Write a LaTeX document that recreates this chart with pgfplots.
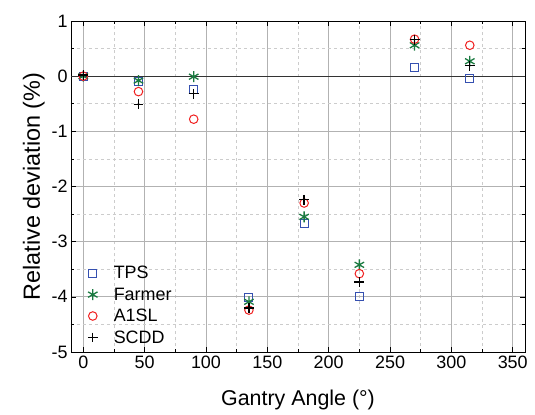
\documentclass[border=0pt]{standalone}
\usepackage{fontspec}
\setmainfont{Liberation Sans}
\usepackage{pgfplots}
\pgfplotsset{compat=1.18}

\definecolor{tpsblue}{HTML}{3550B0}
\definecolor{farmgreen}{HTML}{1A7A40}
\definecolor{slred}{HTML}{F02020}

\begin{document}
\begin{tikzpicture}
\begin{axis}[
    name=ax,
    scale only axis,
    width=454bp, height=331bp,
    xmin=-10, xmax=360,
    ymin=-5, ymax=1,
    xtick={0,50,...,350},
    ytick={-5,-4,...,1},
    minor x tick num=1,
    minor y tick num=1,
    tick align=inside,
    major tick length=5bp,
    minor tick length=3bp,
    tick style={black, line width=0.6pt},
    grid=both,
    major grid style={gray!60, line width=0.9pt},
    minor grid style={gray!40, dashed, line width=0.5pt},
    axis line style={black, line width=0.9pt},
    ticklabel style={font=\fontsize{18}{20}\selectfont},
    /pgf/number format/assume math mode=true,
    xlabel={Gantry Angle (°)},
    ylabel={Relative deviation (\%)},
    xlabel style={font=\fontsize{21.5}{23}\selectfont, yshift=-15bp},
    ylabel style={font=\fontsize{23.5}{25}\selectfont, yshift=0bp},
    legend style={at={(0.03,0.01)}, anchor=south west, draw=none, fill=none,
        font=\fontsize{18}{20}\selectfont, row sep=3.5pt},
    legend cell align=left,
    only marks,
]
\draw[black!80, line width=1.2pt] (axis cs:-10,0) -- (axis cs:360,0);
\addplot[tpsblue, mark=square, mark size=4pt, line width=1pt] coordinates {
    (0,0) (45,-0.1) (90,-0.24) (135,-4.02) (180,-2.67) (225,-4.0) (270,0.16) (315,-0.04)
};
\addlegendentry{\hspace{14bp}TPS}
\addplot[farmgreen, mark=asterisk, mark size=5.5pt, line width=1.3pt] coordinates {
    (0,0) (45,-0.08) (90,-0.01) (135,-4.09) (180,-2.55) (225,-3.42) (270,0.56) (315,0.27)
};
\addlegendentry{\hspace{14bp}Farmer}
\addplot[slred, mark=o, mark size=4.3pt, line width=1pt] coordinates {
    (0,0) (45,-0.28) (90,-0.78) (135,-4.24) (180,-2.30) (225,-3.58) (270,0.67) (315,0.56)
};
\addlegendentry{\hspace{14bp}A1SL}
\addplot[black, mark=+, mark size=5pt, line width=1.3pt] coordinates {
    (0,0.02) (45,-0.51) (90,-0.32) (135,-4.2) (180,-2.24) (225,-3.73) (270,0.66) (315,0.19)
};
\addlegendentry{\hspace{14bp}SCDD}
\end{axis}
\path (ax.south west) ++(-71bp,-63bp) coordinate (bl);
\path (ax.north east) ++(10bp,21bp) coordinate (tr);
\path (bl) rectangle (tr);
\end{tikzpicture}
\end{document}
